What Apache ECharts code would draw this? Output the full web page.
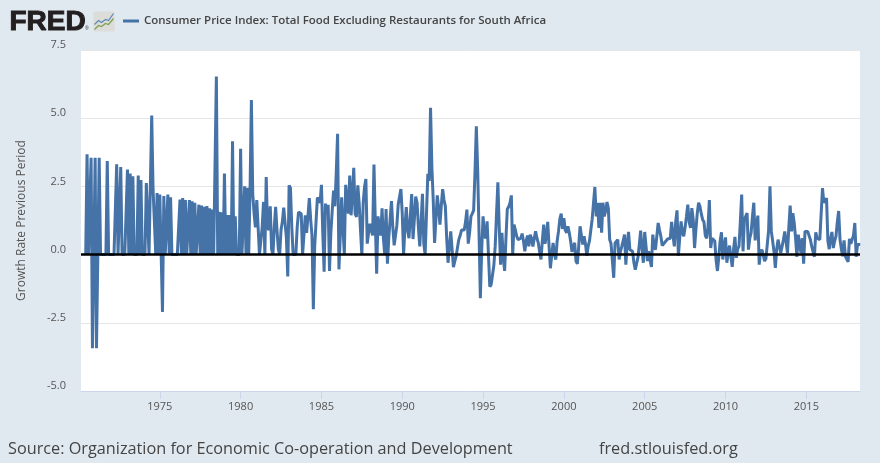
<!DOCTYPE html>
<html><head><meta charset="utf-8">
<style>html,body{margin:0;padding:0;background:#e1e9f0}#c{width:880px;height:463px}</style>
<script src="https://cdn.jsdelivr.net/npm/echarts@6/dist/echarts.min.js"></script>
</head><body><div id="c"></div>
<script>
const seriesName = "Consumer Price Index: Total Food Excluding Restaurants for South Africa";
const yAxisName = "Growth Rate Previous Period";
const sourceText = "Source: Organization for Economic Co-operation and Development";
const siteText = "fred.stlouisfed.org";
const tickYears = [1975,1980,1985,1990,1995,2000,2005,2010,2015];
const y1970=[null,null,null,null,null,0,3.68,0,0,3.55,-3.43,0];
const y1971=[3.55,-3.43,0,3.55,0,0,0,0,0,3.43,0,0];
const y1972=[0,0,0,0,3.31,0,0,3.21,0,0,0,0];
const y1973=[3.12,0,2.97,0,2.87,0,0,0,2.9,0,2.73,0];
const y1974=[0,0,2.62,2.6,0,0,5.1,2.38,2.33,0,2.26,0];
const y1975=[2.2,2.15,-2.1,2.15,0,0,2.2,0,2.1,0,0,0];
const y1976=[0,0,0,2.02,0,2.07,0,2.0,0,0,2.0,0];
const y1977=[1.95,0,1.9,0,0,1.83,0,1.8,0,1.75,0,1.78];
const y1978=[0,1.7,0,1.65,0,0,6.53,0,1.57,0,1.55,0];
const y1979=[2.97,0,1.45,0,1.45,0,4.15,0,1.4,0,0,0];
const y1980=[3.88,0,0,2.5,0,2.45,0,2.35,5.67,2.23,1.5,1.0];
const y1981=[2.0,1.0,0,0,1.0,1.93,0,2.84,1.0,0.9,1.77,0.2];
const y1982=[0,1.0,1.75,0.9,0.2,0,0.9,1.2,1.72,1.67,0.6,-0.8];
const y1983=[2.54,2.44,1.0,0,0,0,1.0,1.56,1.5,1.5,0,0.7];
const y1984=[1.44,0.8,1.4,2.07,1.3,0.7,-2.0,0.3,1.2,2.09,2.0,1.9];
const y1985=[2.56,0.8,-0.63,1.87,1.5,1.83,-0.6,0.8,1.6,2.35,1.77,3.0];
const y1986=[4.43,-0.54,0.7,2.1,1.0,0,2.56,2.0,1.5,2.9,1.44,2.2];
const y1987=[3.18,1.5,1.38,2.54,1.9,0.9,0,1.9,2.48,2.77,0.4,0.8];
const y1988=[1.13,0.9,0.7,3.3,1.2,-0.7,1.4,1.0,0.7,1.7,0.6,0];
const y1989=[1.67,-0.33,0.6,1.3,1.96,1.0,0.34,0.7,1.07,1.84,1.9,2.4];
const y1990=[1.5,0,1.0,1.74,0.9,0.6,1.4,2.22,0.57,1.3,2.13,1.9];
const y1991=[1.0,0.3,1.2,2.23,0.4,0,1.5,2.96,2.7,5.38,3.2,2.0];
const y1992=[0.43,1.3,2.17,1.7,1.1,1.8,2.4,2.0,1.77,0.6,-0.3,0.3];
const y1993=[0.85,0.2,-0.46,-0.25,-0.06,0.25,0.55,0.7,0.9,0.9,0.9,1.2];
const y1994=[1.65,0.4,0.8,1.4,1.5,1.62,3.0,4.7,3.1,0.8,-1.6,0.2];
const y1995=[1.4,0.7,0.6,1.22,0,-1.18,-1.1,-1.06,-0.4,0.3,1.5,2.65];
const y1996=[1.0,-0.37,0.8,-0.1,-0.6,0.6,1.67,1.75,1.9,2.17,0,1.1];
const y1997=[0.9,0.67,0.55,0.5,0.6,0.77,0.5,0.12,0.5,0.7,0.3,0.73];
const y1998=[0.6,0.3,0.6,0.85,0.6,0.43,0.1,-0.18,0.5,1.1,0.4,0.7];
const y1999=[1.2,0.3,-0.5,0,0.43,0,-0.18,0.5,0.85,1.3,1.5,0.94];
const y2000=[1.34,0.9,0.8,1.04,0.8,0.5,0.1,0.3,0.43,-0.24,-0.34,0.3];
const y2001=[1.04,1.1,0.37,0.67,0.4,-0.04,0.3,0.5,0.9,1.3,1.9,2.48];
const y2002=[1.4,1.9,0.98,1.9,0.8,1.9,1.4,1.6,1.93,1.7,0.55,0.4];
const y2003=[0.4,-0.85,0.43,0.5,0.55,-0.18,0.12,0.3,0.5,0.73,-0.37,0.4];
const y2004=[0.83,0.18,0.15,0.12,-0.3,-0.55,-0.6,-0.1,0.37,0.88,0.2,-0.3];
const y2005=[0.83,0.3,-0.24,0.12,-0.2,-0.45,0.73,0.3,0.18,0.24,1.16,0.9];
const y2006=[0.67,0.33,0.4,0.45,0.52,0.57,0.57,0.6,1.2,0.7,0.3,1.2];
const y2007=[1.62,-0.04,0.6,1.22,0.8,0.67,1.0,1.4,1.83,1.2,0.98,1.7];
const y2008=[1.3,0.24,0.9,1.5,1.9,1.77,1.5,1.28,1.2,0.7,0.6,1.0];
const y2009=[2.0,0.24,0.6,0.55,0.5,-0.2,-0.6,-0.1,0.5,0.82,-0.18,0.3];
const y2010=[0.63,-0.3,0.1,0.33,-0.1,-0.45,0.2,0.65,-0.12,0.2,0.3,1.2];
const y2011=[2.2,0.12,1.28,1.4,1.52,0.18,0.6,0.8,1.4,1.9,0.52,1.0];
const y2012=[1.43,-0.37,0.1,0.18,0,-0.24,-0.15,-0.08,0.9,2.5,0.85,0.5];
const y2013=[0.1,-0.49,0.2,0.55,0.3,0.06,0.3,0.55,0.85,0.8,0.06,1.0];
const y2014=[1.8,0.85,1.52,1.16,0.6,-0.08,0.73,0.4,0.06,0.6,-0.33,0.85];
const y2015=[0.85,0.85,0.85,0.55,0.3,0.1,-0.08,0.82,0.6,0.57,0.55,0.6];
const y2016=[2.44,1.9,1.9,2.07,0.5,0.2,0.6,0.83,0.24,0.5,0.67,1.2];
const y2017=[1.6,0.55,0.2,-0.06,0.52,-0.06,-0.1,-0.27,0.58,0.4,0.37,0.7];
const y2018=[1.16,-0.08,0.37,0.37,0.37];
const yearly=[y1970,y1971,y1972,y1973,y1974,y1975,y1976,y1977,y1978,y1979,y1980,y1981,y1982,y1983,y1984,y1985,y1986,y1987,y1988,y1989,y1990,y1991,y1992,y1993,y1994,y1995,y1996,y1997,y1998,y1999,y2000,y2001,y2002,y2003,y2004,y2005,y2006,y2007,y2008,y2009,y2010,y2011,y2012,y2013,y2014,y2015,y2016,y2017,y2018];
const points=[];
yearly.forEach((arr,k)=>arr.forEach((v,m)=>points.push([1970+k+m/12,v])));
const font='"Open Sans"';
const chart=echarts.init(document.getElementById('c'),null,{renderer:'canvas'});
chart.setOption({
  animation:false,backgroundColor:'#e1e9f0',
  legend:{left:118,top:10,itemWidth:16,itemHeight:3,itemGap:5,icon:'rect',
    textStyle:{fontFamily:font,fontSize:11.5,fontWeight:600,color:'#444'},data:[seriesName]},
  grid:{left:81,right:20,top:50,bottom:72,backgroundColor:'#fff',show:true,borderWidth:0},
  xAxis:{type:'value',min:1970.125,max:2018.32,
    axisLine:{show:true,onZero:false,lineStyle:{color:'#ccd6eb',width:1}},
    axisTick:{show:true,length:8,lineStyle:{color:'#ccd6eb'},customValues:tickYears},
    axisLabel:{fontFamily:font,fontSize:11,color:'#555',margin:10,customValues:tickYears,
      formatter:v=>String(Math.round(v))},
    splitLine:{show:false}},
  yAxis:{type:'value',min:-5,max:7.5,interval:2.5,
    name:yAxisName,nameLocation:'middle',nameGap:53,nameTextStyle:{fontFamily:font,fontSize:12,color:'#555'},
    axisLine:{show:false},axisTick:{show:false},
    axisLabel:{fontFamily:font,fontSize:11,color:'#555',margin:15,verticalAlign:'bottom',lineHeight:10,formatter:v=>v.toFixed(1)},
    splitLine:{lineStyle:{color:'#e6e6e6',width:1}}},
  series:[{name:seriesName,type:'line',data:points,showSymbol:false,symbol:'none',clip:true,
    lineStyle:{color:'#4572a7',width:3},itemStyle:{color:'#4572a7'},
    markLine:{silent:true,symbol:'none',label:{show:false},animation:false,
      lineStyle:{color:'#000',width:2.5,type:'solid'},data:[{yAxis:0}]}}],
  graphic:[
    {type:'text',left:9,top:8,style:{text:'FRED',font:'bold 28px "Liberation Sans"',fill:'#231f20',stroke:'#231f20',lineWidth:1}},
    {type:'text',left:85,top:26,style:{text:'®',font:'5px "Liberation Sans"',fill:'#231f20'}},
    {type:'group',left:92,top:11,children:[
      {type:'rect',shape:{x:0,y:0,width:21,height:20,r:1},style:{fill:'#dcdcd8'}},
      {type:'polyline',shape:{points:[[1,13],[5,9],[8,11],[12,8],[15,9],[20,2]]},style:{stroke:'#5b88b5',lineWidth:1.2,fill:null}},
      {type:'polyline',shape:{points:[[1,18],[5,14],[8,15],[12,12],[15,13],[20,7]]},style:{stroke:'#7ea04c',lineWidth:1.2,fill:null}}]},
    {type:'text',left:8,top:441,style:{text:sourceText,font:'16.25px "Open Sans"',fill:'#444'}},
    {type:'text',left:599,top:441,style:{text:siteText,font:'16.25px "Open Sans"',fill:'#444'}}
  ]
});
</script></body></html>
